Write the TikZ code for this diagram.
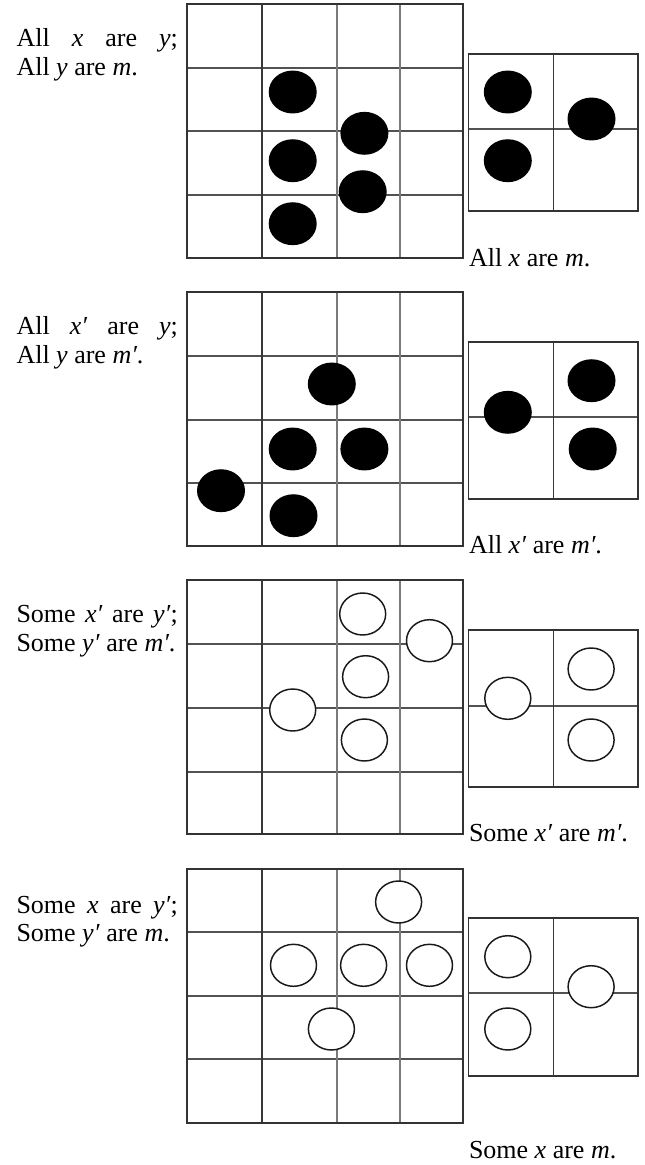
\documentclass[tikz,border=0pt]{standalone}
\usepackage{fontspec}
\setmainfont{Liberation Serif}
\usetikzlibrary{shapes.geometric}
\tikzset{
  outerline/.style={draw=black!80, line width=1pt},
  darkline/.style={draw=black!78, line width=1pt},
  lightline/.style={draw=black!52, line width=1pt},
  midline/.style={draw=black!68, line width=1pt},
  fdot/.style={ellipse, fill=black, minimum width=36pt, minimum height=32.2pt, inner sep=0pt, outer sep=0pt},
  odot/.style={ellipse, draw=black!90, fill=white, line width=1.1pt, minimum width=34.5pt, minimum height=31.5pt, inner sep=0pt, outer sep=0pt},
  txt/.style={anchor=base west, inner sep=0pt, outer sep=0pt, font=\fontsize{19.5}{22}\selectfont},
}
\begin{document}
\begin{tikzpicture}[x=0.75pt,y=-0.75pt]
\useasboundingbox (0,0) rectangle (645,1165);
\fill[white] (0,0) rectangle (645,1165);

% ---------- grids ----------
\foreach \ya/\yb/\yc/\yd/\ye/\sa/\sb/\sc in {4/68/131/195/258/54/129/211, 292/356/420/483/546/342/417/499, 580/644/708/772/834/630/706/787, 869/932/996/1059/1123/918/993/1076}{
  \draw[midline] (187,\yb) -- (463,\yb);
  \draw[midline] (187,\yc) -- (463,\yc);
  \draw[midline] (187,\yd) -- (463,\yd);
  \draw[darkline] (262,\ya) -- (262,\ye);
  \draw[lightline] (337,\ya) -- (337,\ye);
  \draw[lightline] (400,\ya) -- (400,\ye);
  \draw[outerline] (187,\ya) rectangle (463,\ye);
  \draw[midline] (468.5,\sb) -- (638,\sb);
  \draw[darkline] (553.5,\sa) -- (553.5,\sc);
  \draw[outerline] (468.5,\sa) rectangle (638,\sc);
}

% ---------- panel 1 ----------
\node[fdot] (p1a) at (292.7,92) {};
\node[fdot] (p1b) at (364.4,133.3) {};
\node[fdot] (p1c) at (292.7,160.7) {};
\node[fdot] (p1d) at (362.7,191.7) {};
\node[fdot] (p1e) at (292.7,223.7) {};
\node[fdot] (p1f) at (507.8,92) {};
\node[fdot] (p1g) at (591.5,119) {};
\node[fdot] (p1h) at (507.8,160.7) {};
\node[txt] (t1a) at (16.5,46.7) {\makebox[121.1pt][s]{All \textit{x} are \textit{y};}};
\node[txt] (t1b) at (16.5,75) {All \textit{y} are \textit{m}.};
\node[txt] (t1c) at (469,266) {All \textit{x} are \textit{m}.};

% ---------- panel 2 ----------
\node[fdot] (p2a) at (331.8,384) {};
\node[fdot] (p2b) at (292.7,449) {};
\node[fdot] (p2c) at (364.4,449) {};
\node[fdot] (p2d) at (221,490.7) {};
\node[fdot] (p2e) at (293.5,515.7) {};
\node[fdot] (p2f) at (507.8,412.3) {};
\node[fdot] (p2g) at (591.5,380.7) {};
\node[fdot] (p2h) at (592.7,449) {};
\node[txt] (t2a) at (16.5,334.3) {\makebox[121.1pt][s]{All \textit{x′} are \textit{y};}};
\node[txt] (t2b) at (16.5,363.3) {All \textit{y} are \textit{m′}.};
\node[txt] (t2c) at (469,553) {All \textit{x′} are \textit{m′}.};

% ---------- panel 3 ----------
\node[odot] (p3a) at (362.7,614) {};
\node[odot] (p3b) at (429.5,640.7) {};
\node[odot] (p3c) at (365.6,676.7) {};
\node[odot] (p3d) at (292.7,710) {};
\node[odot] (p3e) at (364.4,740) {};
\node[odot] (p3f) at (507.8,698.3) {};
\node[odot] (p3g) at (591.1,669) {};
\node[odot] (p3h) at (591.1,740) {};
\node[txt] (t3a) at (16.5,622.3) {\makebox[121.1pt][s]{Some \textit{x′} are \textit{y′};}};
\node[txt] (t3b) at (16.5,651) {Some \textit{y′} are \textit{m′}.};
\node[txt] (t3c) at (469,841.7) {Some \textit{x′} are \textit{m′}.};

% ---------- panel 4 ----------
\node[odot] (p4a) at (398.6,902) {};
\node[odot] (p4b) at (293.5,965.3) {};
\node[odot] (p4c) at (363.6,965.3) {};
\node[odot] (p4d) at (429.5,965.3) {};
\node[odot] (p4e) at (331.4,1029) {};
\node[odot] (p4f) at (507.8,956.7) {};
\node[odot] (p4g) at (591.1,986.7) {};
\node[odot] (p4h) at (507.8,1029) {};
\node[txt] (t4a) at (16.5,913.3) {\makebox[121.1pt][s]{Some \textit{x} are \textit{y′};}};
\node[txt] (t4b) at (16.5,941.7) {Some \textit{y′} are \textit{m}.};
\node[txt] (t4c) at (469,1158) {Some \textit{x} are \textit{m}.};
\end{tikzpicture}
\end{document}
